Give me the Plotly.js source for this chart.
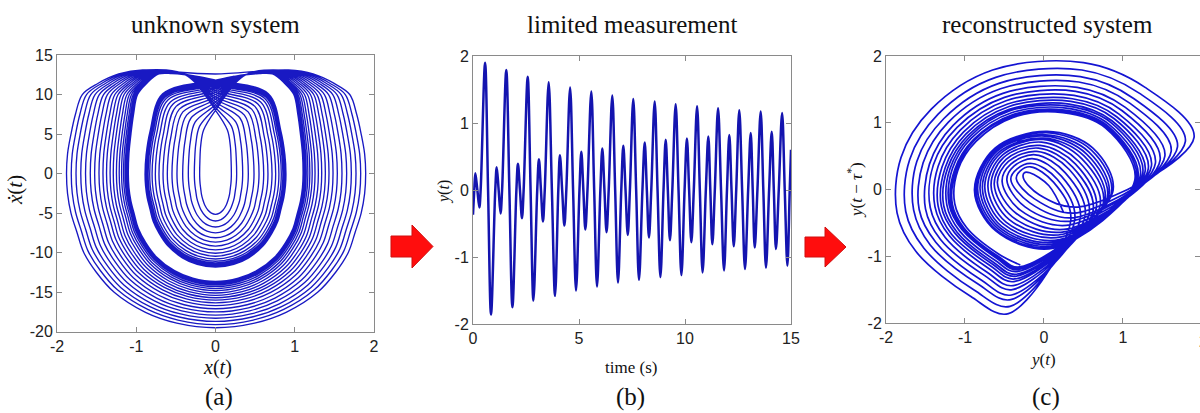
<!DOCTYPE html>
<html><head><meta charset="utf-8">
<script src="https://cdn.plot.ly/plotly-3.0.1.min.js"></script>
<style>html,body{margin:0;padding:0;background:#fff}#chart{width:1200px;height:413px}</style>
</head><body><div id="chart"></div>
<script>
const smallPeakT   = [0.11,1.12,2.12,3.11,4.10,5.11,6.10,7.09,8.10,9.09,10.09,11.10,12.09,13.10,14.09];
const smallPeakY   = [0.25,0.34,0.39,0.46,0.52,0.57,0.62,0.66,0.71,0.75,0.77,0.80,0.82,0.85,0.87];
const smallTroughT = [0.30,1.30,2.31,3.30,4.31,5.30,6.30,7.30,8.30,9.29,10.30,11.29,12.30,13.29,14.29];
const smallTroughY = [-0.26,-0.35,-0.42,-0.47,-0.53,-0.59,-0.63,-0.67,-0.71,-0.75,-0.78,-0.81,-0.84,-0.86,-0.88];
const bigPeakT     = [0.57,1.57,2.58,3.57,4.58,5.58,6.57,7.56,8.57,9.56,10.57,11.56,12.56,13.57,14.58];
const bigPeakY     = [1.90,1.79,1.69,1.61,1.53,1.47,1.41,1.36,1.32,1.28,1.25,1.22,1.19,1.17,1.15];
const bigTroughT   = [0.85,1.86,2.85,3.87,4.86,5.85,6.84,7.83,8.84,9.83,10.83,11.84,12.83,13.82,14.83];
const bigTroughY   = [-1.86,-1.75,-1.65,-1.58,-1.50,-1.44,-1.38,-1.34,-1.30,-1.27,-1.23,-1.20,-1.18,-1.16,-1.13];
const zeroA = [0.205,1.21,2.215,3.205,4.205,5.205,6.20,7.195,8.20,9.19,10.195,11.195,12.195,13.195,14.19];
const zeroB = [0.361,1.372,2.389,3.385,4.402,5.40,6.401,7.401,8.409,9.402,10.415,11.407,12.416,13.416,14.423];
const zeroC = [0.711,1.716,2.716,3.721,4.721,5.716,6.706,7.696,8.705,9.695,10.70,11.70,12.695,13.695,14.705];
const zeroD = [1.05,2.047,3.03,4.024,5.022,6.008,6.994,7.992,8.987,9.98,10.983,11.98,12.979,13.967,14.94];
const bStart = [0, -0.37], bFirstZero = 0.06, bEnd = [15, 0.60];

// ===== Panel (a): phase portrait loops
const outerRight  = [1.895,1.832,1.773,1.714,1.655,1.596,1.537,1.483,1.432,1.386,1.340,1.298,1.256,1.220,1.190,1.165,1.145,1.130,1.120,1.113,1.108,1.105];
const outerLeft   = [-1.880,-1.820,-1.760,-1.700,-1.640,-1.580,-1.525,-1.470,-1.420,-1.375,-1.330,-1.290,-1.250,-1.215,-1.185,-1.160,-1.140,-1.125,-1.115,-1.108,-1.103,-1.100];
const outerBottom = [-19.5,-19.1,-18.7,-18.3,-17.9,-17.5,-17.1,-16.7,-16.35,-16.0,-15.7,-15.4,-15.1,-14.8,-14.55,-14.3,-14.1,-13.95,-13.85,-13.75,-13.7,-13.65];
const outerTopX   = [0.92,0.90,0.88,0.86,0.84,0.82,0.80,0.78,0.76,0.74,0.72,0.70,0.68,0.66,0.64,0.62,0.60,0.58,0.57,0.56,0.55,0.54];
const outerTopY   = [13.1,13.08,13.05,13.02,13.0,12.97,12.94,12.92,12.9,12.88,12.86,12.84,12.82,12.8,12.78,12.76,12.74,12.72,12.7,12.68,12.66,12.64];
const upperSideY    = [12.6, 11.4, 10, 7.5, 5, 2.5];              // outermost loop profile, upper side
const upperSideFrac = [0.65, 0.79, 0.894, 0.94, 0.97, 0.993];
const lowerFracX = [0.993, 0.97, 0.93, 0.885, 0.80, 0.68, 0.47, 0.26];   // outermost loop profile, lower side
const lowerFracY = [0.13, 0.256, 0.38, 0.51, 0.64, 0.77, 0.90, 0.97];
const innerHalfWidth = [0.20,0.267,0.343,0.414,0.486,0.549,0.608,0.662,0.713,0.759,0.800,0.830,0.850,0.862,0.870,0.876,0.880,0.883,0.885,0.887,0.888,0.889];
const innerBottom = [-5.15,-6.0,-6.76,-7.49,-8.12,-8.67,-9.18,-9.65,-10.07,-10.45,-10.8,-11.09,-11.3,-11.45,-11.56,-11.64,-11.7,-11.74,-11.77,-11.8,-11.82,-11.84];
const innerCross  = [8.0,8.35,8.7,9.05,9.4,9.7,10.0,10.3,10.55,10.8,11.0,11.2,11.35,11.45,11.55,11.62,11.68,11.72,11.75,11.78,11.8,11.82];
const innerShoulderY = [5.5,6.0,6.5,7.0,7.4,7.8,8.15,8.5,8.8,9.05,9.3,9.5,9.65,9.75,9.85,9.9,9.95,10.0,10.0,10.05,10.05,10.1];
const innerTopX   = [0.38,0.38,0.37,0.37,0.36,0.35,0.34,0.33,0.32,0.31,0.30,0.29,0.28,0.27,0.26,0.25,0.25,0.24,0.24,0.24,0.23,0.23];
const innerTopY   = [12.5,12.48,12.46,12.44,12.42,12.4,12.38,12.36,12.35,12.34,12.33,12.32,12.32,12.31,12.31,12.3,12.3,12.3,12.3,12.3,12.3,12.3];
const aStartX = [-0.5, 0], aStartY = [12.85, 12.6];

// ===== Panel (c): delay coordinates — second coordinate of each extreme point and arc points
const cSmallRightY  = [-0.35,-0.45,-0.45,-0.43,-0.40,-0.37,-0.33,-0.29,-0.25,-0.21,-0.17,-0.13,-0.10,-0.07,-0.04];
const cSmallTopX    = [-0.18,-0.17,-0.15,-0.13,-0.11,-0.09,-0.07,-0.05,-0.03,-0.01,0.0,0.01,0.02,0.03,0.04];
const cSmallLeftY   = [0.17,0.16,0.15,0.14,0.12,0.10,0.08,0.06,0.05,0.04,0.03,0.02,0.01,0.0,-0.01];
const cSmallBottomX = [0.45,0.42,0.39,0.36,0.33,0.30,0.27,0.24,0.22,0.20,0.18,0.16,0.14,0.13,0.12];
const cSmallURx = [0.06,0.12,0.17,0.22,0.27,0.32,0.36,0.40,0.44,0.48,0.51,0.54,0.57,0.60,0.62];
const cSmallURy = [0.06,0.11,0.15,0.20,0.25,0.30,0.34,0.38,0.42,0.46,0.50,0.53,0.56,0.59,0.62];
const cSmallULx = [-0.25,-0.30,-0.34,-0.38,-0.42,-0.45,-0.48,-0.51,-0.53,-0.55,-0.57,-0.59,-0.60,-0.61,-0.62];
const cSmallULy = [0.25,0.28,0.31,0.35,0.38,0.42,0.45,0.48,0.51,0.54,0.56,0.58,0.60,0.61,0.62];
const cSmallLLx = [-0.06,-0.12,-0.18,-0.24,-0.30,-0.35,-0.40,-0.44,-0.48,-0.51,-0.54,-0.56,-0.58,-0.60,-0.61];
const cSmallLLy = [-0.08,-0.14,-0.20,-0.26,-0.31,-0.36,-0.41,-0.45,-0.49,-0.52,-0.55,-0.57,-0.59,-0.61,-0.62];
const cBigRightY  = [0.78,0.72,0.64,0.57,0.50,0.44,0.39,0.35,0.31,0.27,0.24,0.21,0.18,0.16,0.14];
const cBigURx  = [1.28,1.21,1.14,1.09,1.03,0.99,0.95,0.92,0.89,0.86,0.84,0.82,0.80,0.79,0.78];
const cBigURy  = [1.53,1.44,1.36,1.29,1.23,1.18,1.13,1.09,1.06,1.03,1.01,0.98,0.96,0.94,0.92];
const cBigTopX = [0.50,0.48,0.46,0.44,0.42,0.40,0.38,0.36,0.34,0.32,0.30,0.28,0.26,0.25,0.24];
const cBigUL1x = [-0.65,-0.61,-0.57,-0.55,-0.52,-0.50,-0.48,-0.46,-0.45,-0.44,-0.43,-0.41,-0.40,-0.40,-0.39];
const cBigUL1y = [1.79,1.68,1.59,1.51,1.44,1.38,1.33,1.28,1.24,1.20,1.18,1.15,1.12,1.10,1.08];
const cBigUL2x = [-1.43,-1.34,-1.27,-1.21,-1.15,-1.10,-1.06,-1.02,-0.99,-0.96,-0.94,-0.92,-0.89,-0.88,-0.86];
const cBigUL2y = [1.20,1.13,1.06,1.01,0.96,0.93,0.89,0.86,0.83,0.81,0.79,0.77,0.75,0.74,0.72];
const cBigUL3x = [-1.81,-1.70,-1.61,-1.53,-1.45,-1.40,-1.34,-1.29,-1.25,-1.22,-1.19,-1.16,-1.13,-1.11,-1.09];
const cBigUL3y = [0.48,0.45,0.42,0.40,0.38,0.37,0.35,0.34,0.33,0.32,0.31,0.31,0.30,0.29,0.29];
const cBigLeftY = [-0.35,-0.33,-0.31,-0.30,-0.29,-0.27,-0.26,-0.25,-0.25,-0.24,-0.23,-0.23,-0.22,-0.22,-0.21];
const cBigLL1x = [-1.62,-1.52,-1.44,-1.37,-1.31,-1.25,-1.20,-1.17,-1.13,-1.10,-1.07,-1.04,-1.03,-1.01,-0.98];
const cBigLL1y = [-0.93,-0.88,-0.83,-0.79,-0.75,-0.72,-0.69,-0.67,-0.65,-0.64,-0.62,-0.60,-0.59,-0.58,-0.57];
const cBigLL2x = [-0.93,-0.88,-0.83,-0.79,-0.75,-0.72,-0.69,-0.67,-0.65,-0.64,-0.62,-0.60,-0.59,-0.58,-0.57];
const cBigLL2y = [-1.60,-1.51,-1.42,-1.36,-1.29,-1.24,-1.19,-1.15,-1.12,-1.09,-1.06,-1.03,-1.01,-1.00,-0.97];
const cBigBottomX = [-0.45,-0.43,-0.42,-0.41,-0.40,-0.39,-0.38,-0.37,-0.36,-0.35,-0.34,-0.33,-0.32,-0.31,-0.30];

// tick labels
const aXTicks = [-2,-1,0,1,2], aYTicks = [-20,-15,-10,-5,0,5,10,15];
const bXTicks = [0,5,10,15],   bYTicks = [-2,-1,0,1,2];
const cXTicks = [-2,-1,0,1],   cYTicks = [-2,-1,0,1,2];

// ---------- build panel (b)
const bx = [bStart[0], bFirstZero], by = [bStart[1], 0];
for (let k = 0; k < smallPeakT.length; k++) {
  bx.push(smallPeakT[k], zeroA[k], smallTroughT[k], zeroB[k], bigPeakT[k], zeroC[k], bigTroughT[k], zeroD[k]);
  by.push(smallPeakY[k], 0, smallTroughY[k], 0, bigPeakY[k], 0, bigTroughY[k], 0);
}
bx.push(bEnd[0]); by.push(bEnd[1]);

// ---------- build panel (a)
const ax = aStartX.slice(), ay = aStartY.slice();
function P(x, y) { ax.push(x); ay.push(y); }
for (let k = 0; k < outerRight.length; k++) {
  const R = outerRight[k], L = outerLeft[k], B = outerBottom[k];
  P(outerTopX[k], outerTopY[k]);
  for (let j = 0; j < upperSideY.length; j++) P(upperSideFrac[j] * R, upperSideY[j]);
  P(R, 0);
  for (let j = 0; j < lowerFracX.length; j++) P(lowerFracX[j] * R, lowerFracY[j] * B);
  P(0, B);
  for (let j = lowerFracX.length - 1; j >= 0; j--) P(lowerFracX[j] * L, lowerFracY[j] * B);
  P(L, 0);
  for (let j = upperSideY.length - 1; j >= 0; j--) P(upperSideFrac[j] * L, upperSideY[j]);
  P(-outerTopX[k], outerTopY[k]);
  // teardrop
  const W = innerHalfWidth[k], Bi = innerBottom[k], C = innerCross[k], S = innerShoulderY[k];
  P(-innerTopX[k], innerTopY[k]); P(0, C); P(0.75 * W, S); P(0.93 * W, 0.45 * C); P(0.985 * W, 0.2 * C); P(W, 0);
  for (let j = 0; j < lowerFracX.length; j++) P(lowerFracX[j] * W, lowerFracY[j] * Bi);
  P(0, Bi);
  for (let j = lowerFracX.length - 1; j >= 0; j--) P(-lowerFracX[j] * W, lowerFracY[j] * Bi);
  P(-W, 0); P(-0.985 * W, 0.2 * C); P(-0.93 * W, 0.45 * C); P(-0.75 * W, S); P(0, C); P(innerTopX[k], innerTopY[k]);
}

// ---------- build panel (c)
const cx = [], cy = [];
function Q(x, y) { cx.push(x); cy.push(y); }
for (let k = 0; k < smallPeakY.length; k++) {
  Q(smallPeakY[k], cSmallRightY[k]); Q(cSmallURx[k], cSmallURy[k]); Q(cSmallTopX[k], smallPeakY[k]);
  Q(cSmallULx[k], cSmallULy[k]); Q(smallTroughY[k], cSmallLeftY[k]); Q(cSmallLLx[k], cSmallLLy[k]);
  Q(cSmallBottomX[k], smallTroughY[k]);
  Q(bigPeakY[k], cBigRightY[k]); Q(cBigURx[k], cBigURy[k]); Q(cBigTopX[k], bigPeakY[k]);
  Q(cBigUL1x[k], cBigUL1y[k]); Q(cBigUL2x[k], cBigUL2y[k]); Q(cBigUL3x[k], cBigUL3y[k]);
  Q(bigTroughY[k], cBigLeftY[k]);
  Q(cBigLL1x[k], cBigLL1y[k]); Q(cBigLL2x[k], cBigLL2y[k]); Q(cBigBottomX[k], bigTroughY[k]);
}

const traces = [
  {x: ax, y: ay, xaxis: 'x', yaxis: 'y', mode: 'lines', line: {color: 'rgb(25,25,195)', width: 1.35, shape: 'spline', smoothing: 1}, hoverinfo: 'skip'},
  {x: bx, y: by, xaxis: 'x2', yaxis: 'y2', mode: 'lines', line: {color: 'rgb(20,20,175)', width: 2.5, shape: 'spline', smoothing: 1}, hoverinfo: 'skip'},
  {x: cx, y: cy, xaxis: 'x3', yaxis: 'y3', mode: 'lines', line: {color: 'rgb(20,20,210)', width: 1.7, shape: 'spline', smoothing: 1}, hoverinfo: 'skip'}
];

const W0 = 1200, H0 = 413;
const base = {showgrid: false, zeroline: false, showline: true, linecolor: '#8a8a8a', linewidth: 1,
  mirror: 'ticks', ticks: 'inside', ticklen: 5, tickcolor: '#8a8a8a', fixedrange: true,
  tickfont: {family: 'Liberation Sans, Arial, sans-serif', size: 16, color: '#222'}};
function axis(extra, ticks) {
  return Object.assign({}, base, {tickmode: 'array', tickvals: ticks, ticktext: ticks.map(v => String(v))}, extra);
}
const serif = 'Liberation Serif, Times New Roman, serif';
function ann(text, px, py, size, rot, fam) {
  return {text: text, x: px / W0, y: 1 - py / H0, xref: 'paper', yref: 'paper', showarrow: false,
    xanchor: 'center', yanchor: 'middle', textangle: rot || 0,
    font: {family: fam || serif, size: size, color: '#111'}};
}
function arrow(x0, xb, xt, yb0, yb1, yh0, yh1) {
  const ym = (yh0 + yh1) / 2;
  const pts = [[x0, yb0], [xb, yb0], [xb, yh0], [xt, ym], [xb, yh1], [xb, yb1], [x0, yb1]];
  return {type: 'path', xref: 'paper', yref: 'paper',
    path: 'M' + pts.map(p => (p[0] / W0).toFixed(5) + ',' + (1 - p[1] / H0).toFixed(5)).join(' L') + ' Z',
    fillcolor: '#ff0d0d', line: {color: '#d01010', width: 1}};
}

const layout = {
  width: W0, height: H0, margin: {l: 0, r: 0, t: 0, b: 0}, paper_bgcolor: '#fff', plot_bgcolor: '#fff', showlegend: false,
  xaxis:  axis({domain: [57 / W0, 374 / W0], range: [-2, 2], anchor: 'y'}, aXTicks),
  yaxis:  axis({domain: [1 - 331.7 / H0, 1 - 55 / H0], range: [-20, 15], anchor: 'x'}, aYTicks),
  xaxis2: axis({domain: [473 / W0, 791 / W0], range: [0, 15], anchor: 'y2'}, bXTicks),
  yaxis2: axis({domain: [1 - 324 / H0, 1 - 56 / H0], range: [-2, 2], anchor: 'x2'}, bYTicks),
  xaxis3: axis({domain: [886 / W0, 1], range: [-2, 1.975], anchor: 'y3'}, cXTicks),
  yaxis3: axis({domain: [1 - 323 / H0, 1 - 56 / H0], range: [-2, 2], anchor: 'x3'}, cYTicks),
  annotations: [
    ann('unknown system', 215, 25, 25), ann('limited measurement', 632, 25, 25), ann('reconstructed system', 1047, 25, 25),
    ann('(a)', 219, 397, 25), ann('(b)', 630, 397, 25), ann('(c)', 1046, 397, 25),
    ann('<i>x</i>(<i>t</i>)', 217, 367, 20), ann('<i>ẋ</i>(<i>t</i>)', 15, 190, 21, -90),
    ann('time (s)', 631, 367, 17), ann('<i>y</i>(<i>t</i>)', 444, 192, 16, -90),
    ann('<i>y</i>(<i>t</i>)', 1043, 359, 17), ann('<i>y</i>(<i>t</i> − <i>τ</i><sup>*</sup>)', 855, 190, 17, -90),
    ann('2', 1203, 341, 16, 0, 'Liberation Sans, Arial, sans-serif')
  ],
  shapes: [arrow(391, 412, 433, 236, 257, 225, 268), arrow(805, 825, 846, 237, 257, 227, 267)]
};
Plotly.newPlot('chart', traces, layout, {staticPlot: true, displayModeBar: false});
</script></body></html>
